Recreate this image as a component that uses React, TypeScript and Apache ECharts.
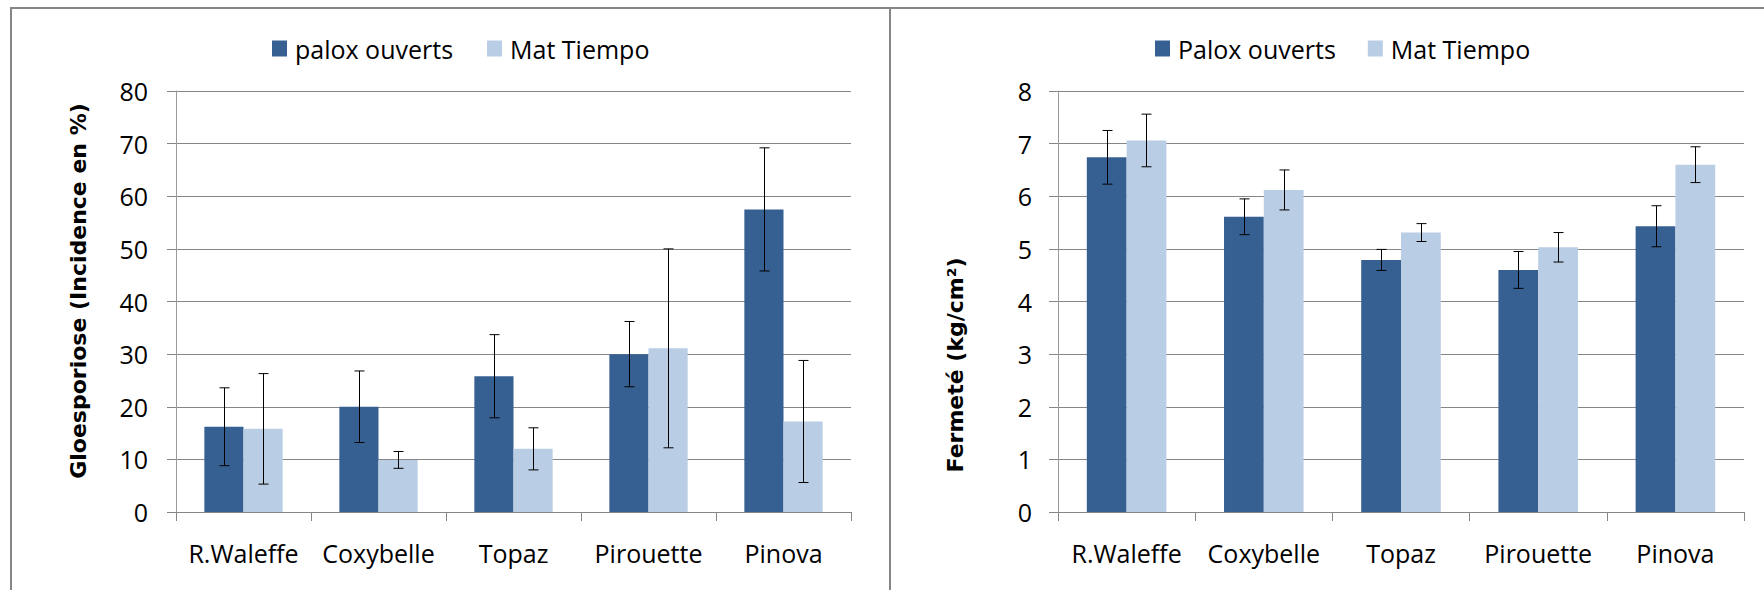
import React, { useEffect, useRef } from "react";
import * as echarts from "echarts";

const categories = ["R.Waleffe", "Coxybelle", "Topaz", "Pirouette", "Pinova"];

// Left chart: Gloesporiose (Incidence en %)
const glPalox = [16.2, 20.0, 25.8, 30.0, 57.5];
const glPaloxErr = [7.4, 6.8, 7.9, 6.2, 11.7];
const glTiempo = [15.8, 9.9, 12.0, 31.1, 17.2];
const glTiempoErr = [10.5, 1.6, 4.0, 18.9, 11.6];

// Right chart: Fermeté (kg/cm²)
const fePalox = [6.74, 5.61, 4.79, 4.6, 5.43];
const fePaloxErr = [0.51, 0.34, 0.2, 0.35, 0.39];
const feTiempo = [7.06, 6.12, 5.31, 5.03, 6.6];
const feTiempoErr = [0.5, 0.38, 0.17, 0.28, 0.34];

const DARK = "#376092";
const LIGHT = "#B9CDE5";
const GRID = "#868686";
const FONT = "Open Sans";
const GAP = 0.42;

function errData(vals: number[], errs: number[]) {
  return vals.map((v, i) => [i, v - errs[i], v + errs[i]]);
}

function errSeries(name: string, axisIdx: number, side: number, vals: number[], errs: number[]) {
  return {
    type: "custom",
    name,
    xAxisIndex: axisIdx,
    yAxisIndex: axisIdx,
    z: 5,
    data: errData(vals, errs),
    renderItem: (params: any, api: any) => {
      const ci = api.value(0);
      const lo = api.coord([ci, api.value(1)]);
      const hi = api.coord([ci, api.value(2)]);
      const catW = api.size([1, 0])[0];
      const barW = (catW * (1 - GAP)) / 2;
      const x = Math.round(lo[0] + (side === 0 ? -barW / 2 : barW / 2)) + 0.5;
      const cap = 5;
      const style = { stroke: "#000", lineWidth: 1 };
      return {
        type: "group",
        children: [
          { type: "line", shape: { x1: x, y1: lo[1], x2: x, y2: hi[1] }, style },
          { type: "line", shape: { x1: x - cap, y1: hi[1], x2: x + cap, y2: hi[1] }, style },
          { type: "line", shape: { x1: x - cap, y1: lo[1], x2: x + cap, y2: lo[1] }, style },
        ],
      };
    },
  };
}

function xAxisCfg(gridIndex: number) {
  return {
    type: "category",
    gridIndex,
    data: categories,
    boundaryGap: true,
    axisLine: { show: true, lineStyle: { color: GRID, width: 1 } },
    axisTick: { show: true, length: 9, interval: 0, lineStyle: { color: GRID } },
    axisLabel: {
      interval: 0,
      hideOverlap: false,
      margin: 28,
      fontSize: 25,
      fontFamily: FONT,
      color: "#000",
    },
    splitLine: { show: false },
  };
}

function yAxisCfg(gridIndex: number, max: number, interval: number, margin: number) {
  return {
    type: "value",
    gridIndex,
    min: 0,
    max,
    interval,
    axisLine: { show: true, lineStyle: { color: "#9a9a9a", width: 1 } },
    axisTick: { show: true, length: 9, lineStyle: { color: GRID } },
    axisLabel: { margin, fontSize: 25, fontFamily: FONT, color: "#000" },
    splitLine: { show: true, lineStyle: { color: GRID, width: 1 } },
  };
}

export default function App() {
  const ref = useRef<HTMLDivElement>(null);
  useEffect(() => {
    if (!ref.current) return;
    const chart = echarts.init(ref.current, null, { renderer: "svg" });
    const option: any = {
      animation: false,
      backgroundColor: "#fff",
      legend: [
        {
          data: ["palox ouverts", "Mat Tiempo"],
          left: 267,
          top: 31,
          icon: "rect",
          itemWidth: 15,
          itemHeight: 16,
          itemGap: 34,
          textStyle: { fontSize: 25, fontFamily: FONT, color: "#000", padding: [0, 0, 0, 3] },
        },
        {
          data: ["Palox ouverts", "Mat Tiempo"],
          left: 1150,
          top: 31,
          icon: "rect",
          itemWidth: 15,
          itemHeight: 16,
          itemGap: 32,
          textStyle: { fontSize: 25, fontFamily: FONT, color: "#000", padding: [0, 0, 0, 3] },
        },
      ],
      grid: [
        { left: 176, right: 1764 - 851, top: 91, bottom: 590 - 512, containLabel: false },
        { left: 1058, right: 1764 - 1744, top: 91, bottom: 590 - 512, containLabel: false },
      ],
      xAxis: [xAxisCfg(0), xAxisCfg(1)],
      yAxis: [yAxisCfg(0, 80, 10, 28), yAxisCfg(1, 8, 1, 26)],
      series: [
        {
          type: "bar",
          name: "palox ouverts",
          xAxisIndex: 0,
          yAxisIndex: 0,
          data: glPalox,
          itemStyle: { color: DARK },
          barGap: "0%",
          barCategoryGap: "42%",
        },
        {
          type: "bar",
          name: "Mat Tiempo",
          xAxisIndex: 0,
          yAxisIndex: 0,
          data: glTiempo,
          itemStyle: { color: LIGHT },
          barGap: "0%",
          barCategoryGap: "42%",
        },
        {
          type: "bar",
          name: "Palox ouverts",
          xAxisIndex: 1,
          yAxisIndex: 1,
          data: fePalox,
          itemStyle: { color: DARK },
          barGap: "0%",
          barCategoryGap: "42%",
        },
        {
          type: "bar",
          name: "Mat Tiempo",
          xAxisIndex: 1,
          yAxisIndex: 1,
          data: feTiempo,
          itemStyle: { color: LIGHT },
          barGap: "0%",
          barCategoryGap: "42%",
        },
        errSeries("err-gl-palox", 0, 0, glPalox, glPaloxErr),
        errSeries("err-gl-tiempo", 0, 1, glTiempo, glTiempoErr),
        errSeries("err-fe-palox", 1, 0, fePalox, fePaloxErr),
        errSeries("err-fe-tiempo", 1, 1, feTiempo, feTiempoErr),
      ],
      graphic: [
        {
          type: "polyline",
          shape: { points: [[11, 590], [11, 8], [1764, 8]] },
          style: { stroke: GRID, lineWidth: 2, fill: "none" },
          silent: true,
        },
        {
          type: "line",
          shape: { x1: 890, y1: 8, x2: 890, y2: 590 },
          style: { stroke: GRID, lineWidth: 2 },
          silent: true,
        },
        {
          type: "text",
          x: 78,
          y: 291,
          rotation: Math.PI / 2,
          style: {
            text: "Gloesporiose (Incidence en %)",
            fontFamily: "DejaVu Sans",
            fontWeight: "bold",
            fontSize: 22,
            fill: "#000",
            align: "center",
            verticalAlign: "middle",
          },
        },
        {
          type: "text",
          x: 955,
          y: 365,
          rotation: Math.PI / 2,
          style: {
            text: "Fermeté (kg/cm²)",
            fontFamily: "DejaVu Sans",
            fontWeight: "bold",
            fontSize: 22,
            fill: "#000",
            align: "center",
            verticalAlign: "middle",
          },
        },
      ],
    };
    chart.setOption(option);
    return () => chart.dispose();
  }, []);
  return (
    <div
      ref={ref}
      style={{ position: "absolute", left: 0, top: 0, width: 1764, height: 590, background: "#fff" }}
    />
  );
}
